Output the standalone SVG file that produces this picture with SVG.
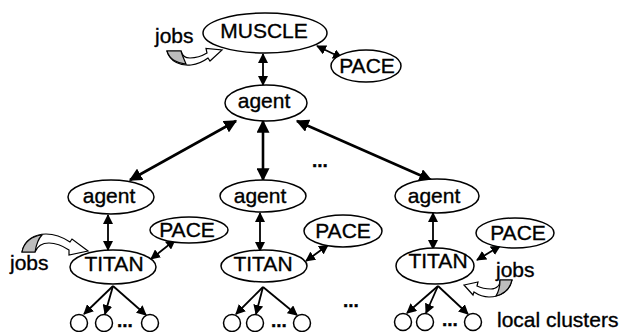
<svg xmlns="http://www.w3.org/2000/svg" width="619" height="332" viewBox="0 0 619 332">
  <defs>
    <marker id="ah" viewBox="0 0 10 10" refX="9" refY="5" markerWidth="10" markerHeight="10" markerUnits="userSpaceOnUse" orient="auto-start-reverse">
      <path d="M0,0 L10,5 L0,10 Z" fill="#000"/>
    </marker>
    <marker id="ahb" viewBox="0 0 10 10" refX="9" refY="5" markerWidth="13" markerHeight="13" markerUnits="userSpaceOnUse" orient="auto-start-reverse">
      <path d="M0,0 L10,5 L0,10 Z" fill="#000"/>
    </marker>
  </defs>
  <style>
    .node ellipse, .node circle { fill: #fff; stroke: #000; stroke-width: 1.5; }
    text { font-family: "Liberation Sans", Arial, sans-serif; font-size: 21px; fill: #000; stroke: #000; stroke-width: 0.35; }
    .lbl { text-anchor: middle; }
    .thin { stroke: #000; stroke-width: 1.8; fill: none; marker-end: url(#ah); }
    .both { marker-start: url(#ah); }
    .thick { stroke: #000; stroke-width: 2.6; fill: none; marker-start: url(#ahb); marker-end: url(#ahb); }
    .dots { font-weight: bold; font-size: 19px; }
    .band { fill: #fff; stroke: #000; stroke-width: 1.2; }
    .tail { fill: #bdbdbd; stroke: #000; stroke-width: 1.2; }
  </style>

  <rect width="619" height="332" fill="#fff"/>

  <!-- connectors -->
  <g id="connectors">
    <line class="thin both" x1="263" y1="54" x2="263" y2="85"/>
    <line class="thin both" x1="317" y1="46" x2="342" y2="58"/>
    <line class="thick" x1="236" y1="121" x2="130" y2="180"/>
    <line class="thick" x1="263" y1="121" x2="263" y2="180"/>
    <line class="thick" x1="297" y1="121" x2="431" y2="180"/>
    <line class="thin both" x1="108" y1="215" x2="108" y2="250"/>
    <line class="thin both" x1="260" y1="213" x2="260" y2="251"/>
    <line class="thin both" x1="433" y1="213" x2="433" y2="249"/>
    <line class="thin both" x1="151" y1="259" x2="175" y2="240"/>
    <line class="thin both" x1="306" y1="261" x2="328" y2="245"/>
    <line class="thin both" x1="477" y1="260" x2="500" y2="246"/>
    <line class="thin" x1="113" y1="286" x2="84" y2="314"/>
    <line class="thin" x1="113" y1="286" x2="105" y2="314"/>
    <line class="thin" x1="113" y1="286" x2="146" y2="315"/>
    <line class="thin" x1="263" y1="287" x2="236" y2="314"/>
    <line class="thin" x1="263" y1="287" x2="256" y2="314"/>
    <line class="thin" x1="263" y1="287" x2="297" y2="315"/>
    <line class="thin" x1="438" y1="286" x2="407" y2="313"/>
    <line class="thin" x1="438" y1="286" x2="426" y2="313"/>
    <line class="thin" x1="438" y1="286" x2="468" y2="314"/>
  </g>

  <!-- incoming job arrows -->
  <g id="jobs-muscle">
    <text x="155" y="43">jobs</text>
    <path class="band" d="M167,51 C170,62 181,66 191,65 C199,64 204,61 208,58 L210,61 L222,50 L206,48.5 L207,53 C202,56 196,58 190,58 C185,58 182,55 181,51 Z"/>
    <path class="tail" d="M167,51 C169,58 176,63 186,64 C184,59 182,55 181,51 Z"/>
  </g>
  <g id="jobs-titan-left">
    <text x="10" y="270">jobs</text>
    <path class="band" d="M22,252 C24,240 35,234 46,234 C56,234 64,238 70,242 L72,239 L88,251 L69,255 L69,250 C63,246 56,243 49,243 C42,243 37,247 35,252 Z"/>
    <path class="tail" d="M22,252 C24,242 32,236 42,235 C38,239 36,246 35,252 Z"/>
  </g>
  <g id="jobs-titan-right">
    <text x="496" y="277">jobs</text>
    <path class="band" d="M512,280 C510,291 500,297 489,297 C482,297 477,294 474,292 L473,295 L464,285 L478,282 L477,286 C481,288 486,289 491,289 C497,289 500,285 500,280 Z"/>
    <path class="tail" d="M512,280 C510,289 504,294 496,296 C499,291 500,286 500,280 Z"/>
  </g>

  <!-- top level -->
  <g id="muscle" class="node">
    <ellipse cx="265" cy="33" rx="62" ry="20"/>
    <text class="lbl" x="264" y="38">MUSCLE</text>
  </g>
  <g id="pace-top" class="node">
    <ellipse cx="366" cy="66" rx="35" ry="16"/>
    <text class="lbl" x="367" y="73">PACE</text>
  </g>
  <g id="agent-root" class="node">
    <ellipse cx="266" cy="103" rx="41" ry="18"/>
    <text class="lbl" x="264" y="108">agent</text>
  </g>

  <!-- left branch -->
  <g id="agent-left" class="node">
    <ellipse cx="111" cy="197" rx="43" ry="17"/>
    <text class="lbl" x="109" y="203">agent</text>
  </g>
  <g id="titan-left" class="node">
    <ellipse cx="113" cy="267" rx="43" ry="17"/>
    <text class="lbl" x="114" y="271">TITAN</text>
  </g>
  <g id="pace-left" class="node">
    <ellipse cx="189" cy="230" rx="39" ry="13"/>
    <text class="lbl" x="187" y="237">PACE</text>
  </g>
  <g id="clusters-left" class="node">
    <circle cx="79" cy="323" r="8.5"/>
    <circle cx="104" cy="323" r="8.5"/>
    <circle cx="150" cy="323" r="8.5"/>
    <text class="dots" x="117" y="327">...</text>
  </g>

  <!-- middle branch -->
  <g id="agent-mid" class="node">
    <ellipse cx="263" cy="196" rx="43" ry="16"/>
    <text class="lbl" x="260" y="203">agent</text>
  </g>
  <g id="titan-mid" class="node">
    <ellipse cx="264" cy="266" rx="43" ry="16"/>
    <text class="lbl" x="263" y="271">TITAN</text>
  </g>
  <g id="pace-mid" class="node">
    <ellipse cx="343" cy="231" rx="39" ry="16"/>
    <text class="lbl" x="343" y="238">PACE</text>
  </g>
  <g id="clusters-mid" class="node">
    <circle cx="232" cy="323" r="8.5"/>
    <circle cx="255" cy="323" r="8.5"/>
    <circle cx="302" cy="323" r="8.5"/>
    <text class="dots" x="271" y="327">...</text>
  </g>

  <!-- right branch -->
  <g id="agent-right" class="node">
    <ellipse cx="437" cy="196" rx="42" ry="17"/>
    <text class="lbl" x="434" y="203">agent</text>
  </g>
  <g id="titan-right" class="node">
    <ellipse cx="435" cy="266" rx="39" ry="18"/>
    <text class="lbl" x="438" y="268">TITAN</text>
  </g>
  <g id="pace-right" class="node">
    <ellipse cx="515" cy="233" rx="39" ry="15"/>
    <text class="lbl" x="518" y="240">PACE</text>
  </g>
  <g id="clusters-right" class="node">
    <circle cx="403" cy="322" r="8.5"/>
    <circle cx="425" cy="322" r="8.5"/>
    <circle cx="473" cy="322" r="8.5"/>
    <text class="dots" x="442" y="326">...</text>
  </g>

  <!-- elision marks and caption -->
  <text class="dots" x="312" y="167">...</text>
  <text class="dots" x="343" y="307">...</text>
  <text x="497" y="327">local clusters</text>
</svg>
